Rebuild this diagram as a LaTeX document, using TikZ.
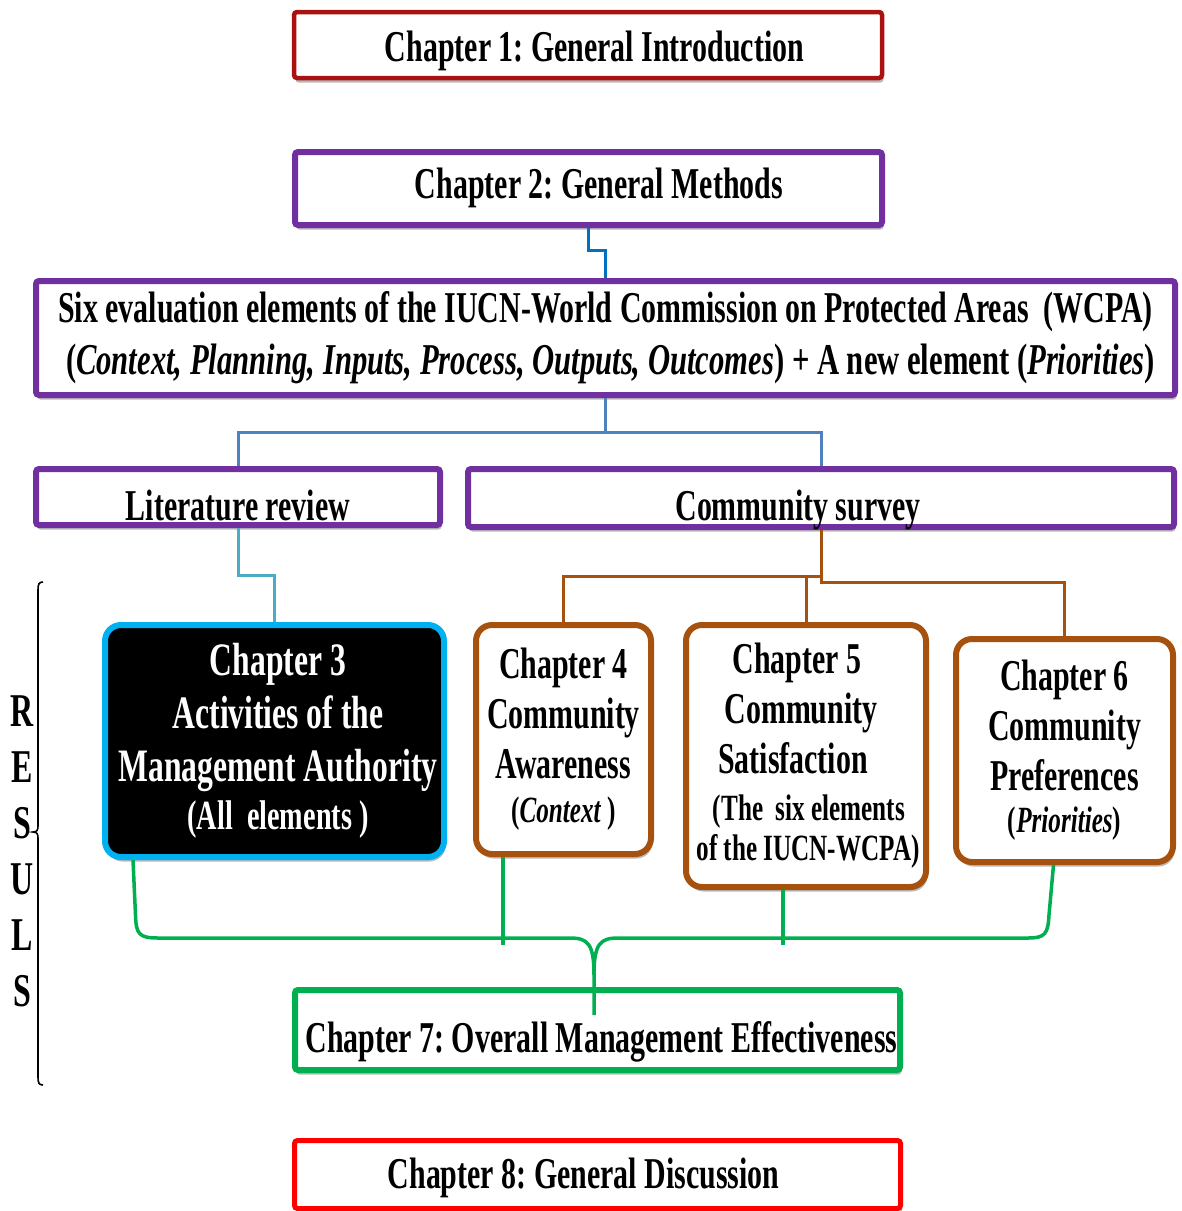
\documentclass[tikz,border=0pt]{standalone}
\usepackage{fontspec}
\usepackage{graphicx}
\setmainfont{Liberation Serif}[FakeStretch=0.68]
\usetikzlibrary{calc,shadows}
\frenchspacing

\definecolor{introred}{RGB}{170,18,18}
\definecolor{methpurple}{RGB}{112,48,160}
\definecolor{linkblue}{RGB}{0,112,192}
\definecolor{steelblue}{RGB}{79,129,189}
\definecolor{aqua}{RGB}{75,172,198}
\definecolor{skyblue}{RGB}{0,176,240}
\definecolor{rust}{RGB}{166,82,14}
\definecolor{leafgreen}{RGB}{0,176,80}
\definecolor{alertred}{RGB}{255,0,0}

\begin{document}
\begin{tikzpicture}[x=1pt,y=-1pt,
  box/.style={draw=#1, fill=white, line width=6pt, rounded corners=3pt,
    inner sep=0pt, align=center, font=\fontsize{44}{52}\selectfont\bfseries,
    drop shadow={shadow xshift=1.5pt, shadow yshift=-4.5pt, opacity=0.28, fill=black}},
  chapbox/.style={box=#1, rounded corners=16pt},
  base/.style={text height=#1, text depth=0pt},
  link/.style={draw=#1, line width=3pt},
  greenlink/.style={draw=leafgreen, line width=3.5pt},
]
\useasboundingbox (0,0) rectangle (1182,1211);

% top chapters
\node[box=introred, line width=4.5pt, minimum width=588pt, minimum height=66pt, base=32pt]
  (ch1) at (588,45) {\hspace*{13pt}Chapter 1: General Introduction};
\node[box=methpurple, minimum width=587pt, minimum height=73pt, base=19pt]
  (ch2) at (588.5,188.5) {\hspace*{21pt}Chapter 2: General Methods};

% evaluation framework
\node[box=methpurple, minimum width=1139pt, minimum height=114pt]
  (wcpa) at (605.5,338) {Six evaluation elements of the IUCN-World Commission on Protected Areas\ \ (WCPA)\\
  \hspace*{10pt}\scalebox{1.024}[1]{(\textit{Context, Planning, Inputs, Process, Outputs, Outcomes}) + A new element (\textit{Priorities})}};

% methods
\node[box=methpurple, minimum width=404pt, minimum height=56pt, base=46pt]
  (lit) at (238,497) {Literature review};
\node[box=methpurple, minimum width=706pt, minimum height=58pt, base=44pt]
  (comm) at (821,498) {\hspace*{-46pt}Community survey};

% result chapters
\node[chapbox=skyblue, fill=black, text=white, minimum width=339pt, minimum height=232pt,
  font=\fontsize{46.5}{53}\selectfont\bfseries]
  (ch3) at (274.5,741) {\hspace*{7pt}Chapter 3\\\hspace*{7pt}Activities of the\\\hspace*{7pt}Management Authority\\[-5pt]
  {\fontsize{41.5}{48}\selectfont \hspace*{7pt}(All\ \ elements )}};
\node[chapbox=rust, minimum width=175pt, minimum height=229pt,
  font=\fontsize{44}{50}\selectfont\bfseries]
  (ch4) at (563.5,739.5) {Chapter 4\\Community\\Awareness\\[-6pt]
  {\fontsize{37}{44}\selectfont (\textit{Context}\,)}};
\node[chapbox=rust, minimum width=240pt, minimum height=262pt,
  font=\fontsize{44}{50}\selectfont\bfseries]
  (ch5) at (806,756) {\hspace*{-18pt}Chapter 5\\\hspace*{-10pt}Community\\\hspace*{-26pt}Satisfaction\\[-3pt]
  {\fontsize{37}{44}\selectfont \hspace*{6pt}(The\ \ six elements}\\[-10pt]
  {\fontsize{37}{44}\selectfont \hspace*{4pt}of the IUCN-WCPA)}};
\node[chapbox=rust, minimum width=217pt, minimum height=223pt,
  font=\fontsize{44}{50}\selectfont\bfseries]
  (ch6) at (1064.5,750.5) {Chapter 6\\Community\\Preferences\\[-8pt]
  {\fontsize{37}{44}\selectfont (\textit{Priorities})}};

% synthesis and discussion
\node[box=leafgreen, minimum width=605pt, minimum height=80pt, base=44pt]
  (ch7) at (597.5,1030) {\hspace*{8pt}Chapter 7: Overall Management Effectiveness};
\node[box=alertred, line width=5pt, minimum width=606pt, minimum height=68pt, base=27pt]
  (ch8) at (597.5,1174.5) {\hspace*{-28pt}Chapter 8: General Discussion};

% connectors
\draw[link=linkblue] (ch2.south) -- ++(0,22) -| (wcpa.north);
\draw[link=steelblue] (wcpa.south) -- ++(0,34) coordinate (split);
\draw[link=steelblue] (lit.north) |- (split) -| (comm.north);
\draw[link=aqua] (lit.south) -- ++(0,47) -| (ch3.north);
\draw[link=rust] (comm.south) -- ++(0,52) -| (ch6.north);
\draw[link=rust] (ch4.north) |- ($(comm.south)+(1.5,46)$);
\draw[link=rust] (ch5.north) -- ++(0,-46);

% converging brace into chapter 7
\coordinate (tip) at ($(ch7.north)+(-3.5,28)$);
\draw[greenlink] ($(ch3.south west)+(31,0)$) -- (135.5,915)
  .. controls (136,934) and (139,938) .. (158,938) -- (570,938)
  .. controls (588,938) and (594,944) .. (594,975) -- (tip);
\draw[greenlink] ($(ch6.south)+(-11,0)$) -- (1049,915)
  .. controls (1048,934) and (1045,938) .. (1028,938) -- (618,938)
  .. controls (600,938) and (594,944) .. (594,975);
\draw[greenlink] ($(ch4.south west)+(30,0)$) -- ++(0,88);
\draw[greenlink] ($(ch5.south)+(-23,0)$) -- ++(0,55);

% results bracket
\draw[line width=1.6pt] (43,582) .. controls (39,582) and (38,584) .. (38,590)
  -- (38,826) .. controls (38,830) and (37,832) .. (33,832)
  .. controls (37,832) and (38,834) .. (38,838)
  -- (38,1077) .. controls (38,1083) and (39,1085) .. (43,1085);
\node[inner sep=0pt, align=center, font=\fontsize{47}{56}\selectfont\bfseries]
  (results) at (22,851) {R\\E\\S\\U\\L\\S};
\end{tikzpicture}
\end{document}
